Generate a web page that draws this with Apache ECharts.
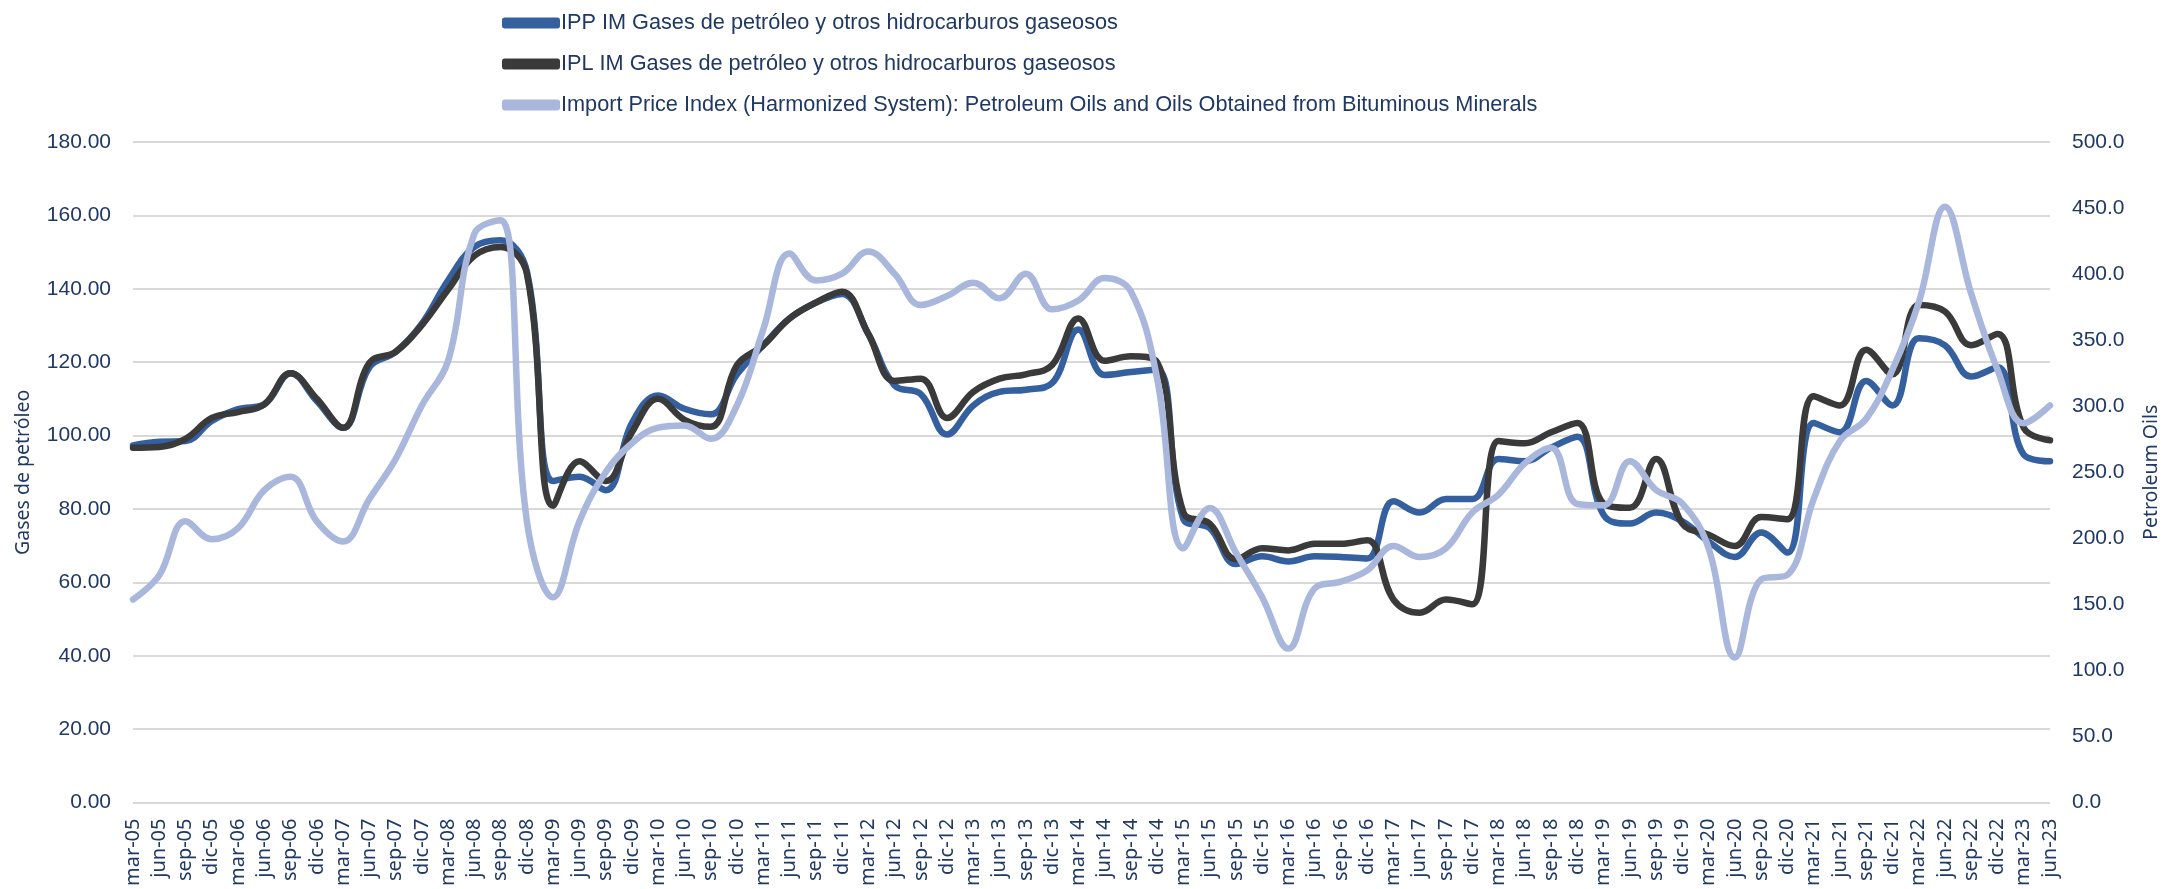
<!DOCTYPE html>
<html lang="es">
<head>
    <meta charset="UTF-8">
    <title>Gases de petróleo</title>
    <script src="https://cdn.jsdelivr.net/npm/echarts@6/dist/echarts.min.js"></script>
    <style>
        html, body { margin: 0; padding: 0; background: #fff; }
        #chart { width: 2169px; height: 889px; }
    </style>
</head>
<body>
    <div id="chart"></div>
    <script>
        // trimestres mar-05 .. jun-23
        const years = ['05','06','07','08','09','10','11','12','13','14','15','16','17','18','19','20','21','22','23'];
        const months = ['mar', 'jun', 'sep', 'dic'];
        const categories = [];
        years.forEach(y => months.forEach(m => categories.push(m + '-' + y)));
        categories.length = 74; // termina en jun-23

        const ipp = [
            97.3, 98.3, 98.5, 104.0, 107.2, 108.5, 117.0, 109.4, 102.1, 118.6,
            122.8, 130.5, 142.3, 151.4, 153.2, 144.7, 87.6, 88.8, 85.1, 103.4,
            110.9, 107.3, 105.8, 116.7, 124.6, 131.9, 136.2, 138.6, 127.7, 113.7,
            111.3, 100.3, 108.2, 111.9, 112.5, 114.3, 128.9, 116.5, 117.3, 118.0,
            77.2, 74.8, 65.0, 67.1, 65.7, 67.1, 66.9, 66.5, 82.1, 79.0,
            82.7, 82.7, 93.6, 93.0, 96.7, 99.7, 78.4, 76.0, 79.0, 76.6,
            71.1, 66.9, 73.6, 68.1, 103.4, 100.9, 114.9, 108.2, 126.5, 124.6,
            116.1, 118.6, 94.8, 93.0
        ];
        const ipl = [
            96.7, 96.9, 99.1, 104.8, 106.4, 108.5, 117.0, 110.0, 102.1, 119.8,
            122.8, 130.1, 139.8, 149.0, 151.4, 144.1, 80.9, 93.0, 87.6, 100.9,
            110.0, 104.3, 102.4, 119.2, 124.6, 131.9, 136.2, 139.2, 127.7, 114.9,
            115.5, 104.8, 111.9, 115.5, 116.7, 119.2, 131.9, 120.4, 121.6, 120.0,
            79.0, 76.0, 66.3, 69.3, 68.7, 70.5, 70.5, 71.5, 55.3, 51.7,
            55.3, 54.0, 98.5, 97.9, 100.9, 103.4, 81.5, 80.3, 93.6, 76.0,
            73.0, 69.9, 77.8, 77.2, 110.7, 108.2, 123.4, 116.7, 135.6, 133.8,
            124.6, 127.7, 102.1, 98.7
        ];
        const importIdx = [
            153.7, 172.0, 213.0, 199.3, 207.7, 236.5, 246.6, 212.8, 197.6, 229.7,
            260.0, 300.6, 334.4, 430.7, 440.8, 212.8, 155.4, 212.8, 250.0, 272.0,
            283.8, 285.4, 275.3, 300.6, 358.0, 415.5, 395.2, 400.3, 417.2, 400.3,
            376.6, 383.4, 393.5, 381.7, 400.3, 373.3, 380.0, 397.0, 386.8, 320.9,
            192.5, 223.0, 189.2, 155.4, 116.5, 162.1, 167.2, 175.7, 194.2, 185.8,
            192.5, 219.6, 233.1, 256.7, 268.6, 226.0, 225.0, 258.4, 236.5, 226.3,
            192.5, 109.8, 168.9, 172.3, 229.7, 273.6, 290.5, 327.7, 378.3, 451.0,
            385.1, 327.7, 287.1, 300.6
        ];

        const navy = '#1f3864';
        const chart = echarts.init(document.getElementById('chart'));

        chart.setOption({
            animation: false,
            legend: {
                orient: 'vertical',
                left: 497,
                top: 7,
                itemGap: 19,
                itemWidth: 58,
                itemHeight: 11,
                icon: 'roundRect',
                textStyle: { color: navy, fontSize: 21.7, fontFamily: 'Liberation Sans', padding: [0, 0, 0, -4] }
            },
            grid: { left: 133, right: 112, top: 142, bottom: 86 },
            xAxis: {
                type: 'category',
                data: categories,
                boundaryGap: false,
                axisLine: { show: false },
                axisTick: { show: false },
                axisLabel: {
                    interval: 0,
                    rotate: 90,
                    margin: 16,
                    color: navy,
                    fontSize: 20,
                    fontFamily: 'Noto Sans'
                }
            },
            yAxis: [
                {
                    type: 'value',
                    min: 0,
                    max: 180,
                    interval: 20,
                    name: 'Gases de petróleo',
                    nameLocation: 'middle',
                    nameRotate: 90,
                    nameGap: 100,
                    nameTextStyle: { color: navy, fontSize: 19.5, fontFamily: 'Noto Sans' },
                    axisLabel: {
                        color: navy,
                        fontSize: 21,
                        fontFamily: 'Liberation Sans',
                        margin: 22,
                        formatter: v => v.toFixed(2)
                    },
                    splitLine: { lineStyle: { color: '#d9d9d9', width: 2 } }
                },
                {
                    type: 'value',
                    min: 0,
                    max: 500,
                    interval: 50,
                    name: 'Petroleum Oils',
                    nameLocation: 'middle',
                    nameRotate: 90,
                    nameGap: 91,
                    nameTextStyle: { color: navy, fontSize: 19.5, fontFamily: 'Noto Sans' },
                    axisLabel: {
                        color: navy,
                        fontSize: 21,
                        fontFamily: 'Liberation Sans',
                        margin: 22,
                        formatter: v => v.toFixed(1)
                    },
                    splitLine: { show: false }
                }
            ],
            series: [
                {
                    name: 'IPP IM Gases de petróleo y otros hidrocarburos gaseosos',
                    type: 'line',
                    data: ipp,
                    yAxisIndex: 0,
                    smooth: 0.4,
                    symbol: 'none',
                    itemStyle: { color: '#3560a0' },
                    lineStyle: { width: 6.5, color: '#3560a0', cap: 'round', join: 'round' },
                    z: 3
                },
                {
                    name: 'IPL IM Gases de petróleo y otros hidrocarburos gaseosos',
                    type: 'line',
                    data: ipl,
                    yAxisIndex: 0,
                    smooth: 0.4,
                    symbol: 'none',
                    itemStyle: { color: '#3a3a3a' },
                    lineStyle: { width: 6.5, color: '#3a3a3a', cap: 'round', join: 'round' },
                    z: 4
                },
                {
                    name: 'Import Price Index (Harmonized System): Petroleum Oils and Oils Obtained from Bituminous Minerals',
                    type: 'line',
                    data: importIdx,
                    yAxisIndex: 1,
                    smooth: 0.4,
                    symbol: 'none',
                    itemStyle: { color: '#a9b7dc' },
                    lineStyle: { width: 6.5, color: '#a9b7dc', cap: 'round', join: 'round' },
                    z: 5
                }
            ]
        });
    </script>
</body>
</html>
